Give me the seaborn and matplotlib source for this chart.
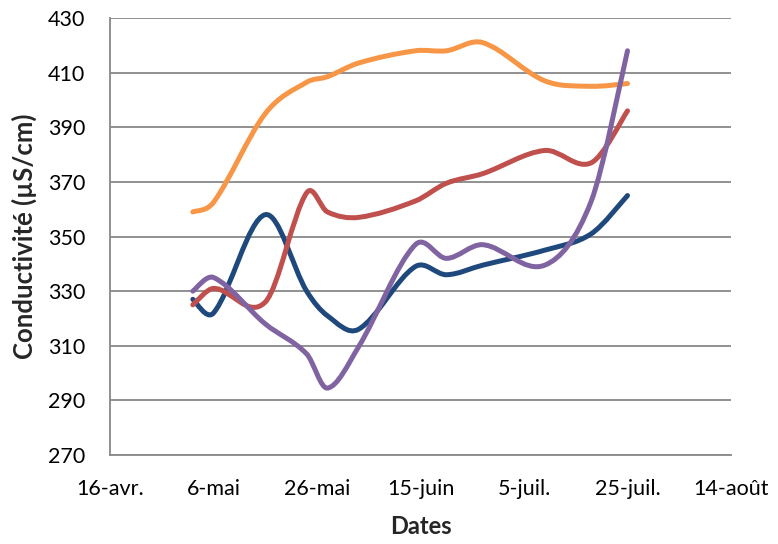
import pandas as pd
import numpy as np
import matplotlib
matplotlib.use('Agg')
import matplotlib.pyplot as plt
import matplotlib.dates as mdates
from matplotlib.path import Path
from matplotlib.patches import PathPatch
import seaborn as sns

# Data
dates = ['2013-05-02', '2013-05-06', '2013-05-16', '2013-05-24', '2013-05-28', '2013-06-03',
         '2013-06-14', '2013-06-20', '2013-06-27', '2013-07-09', '2013-07-18', '2013-07-25']
serie_bleue = [327, 322, 358, 330, 321, 316, 339, 336, 339.5, 345, 351, 365]
serie_rouge = [325, 331, 326, 366, 359, 357, 363, 369.5, 373, 381.5, 377, 396]
serie_orange = [359, 362.5, 395, 406.5, 408.5, 413.5, 418, 418, 421, 407, 405, 406]
serie_violette = [330, 335, 318, 307, 294.5, 309.5, 347, 342, 347, 339.5, 363, 418]

tick_dates = ['2013-04-16', '2013-05-06', '2013-05-26', '2013-06-15', '2013-07-05', '2013-07-25', '2013-08-14']
tick_labels = ['16-avr.', '6-mai', '26-mai', '15-juin', '5-juil.', '25-juil.', '14-août']
y_ticks = [270, 290, 310, 330, 350, 370, 390, 410, 430]

couleurs = ['#1F497D', '#C0504D', '#F79646', '#8064A2']

sns.set_style('white')
plt.rcParams['font.family'] = ['Lato', 'DejaVu Sans']

df = pd.DataFrame({'date': pd.to_datetime(dates), 'bleu': serie_bleue, 'rouge': serie_rouge,
                   'orange': serie_orange, 'violet': serie_violette})


def smooth_path(x, y):
    # smoothed line (Excel style): cubic Bezier, tangents from neighbours,
    # arm lengths shared out by the spacing of the dates
    p = np.column_stack([x, y])
    n = len(p)
    dx = np.diff(x)
    verts = [p[0]]
    codes = [Path.MOVETO]
    for i in range(n - 1):
        prev_i = max(i - 1, 0)
        next_i = min(i + 2, n - 1)
        d_prev = dx[i - 1] if i > 0 else dx[i]
        d_next = dx[i + 1] if i + 1 < n - 1 else dx[i]
        w1 = dx[i] / (d_prev + dx[i]) if i > 0 else 0.5
        w2 = dx[i] / (d_next + dx[i]) if i + 1 < n - 1 else 0.5
        c1 = p[i] + (p[i + 1] - p[prev_i]) * w1 / 3.0
        c2 = p[i + 1] - (p[next_i] - p[i]) * w2 / 3.0
        verts += [c1, c2, p[i + 1]]
        codes += [Path.CURVE4] * 3
    return Path(verts, codes)


fig = plt.figure(figsize=(7.78, 5.44), dpi=100)
ax = fig.add_axes([0.1414, 0.1636, 0.7982, 0.8033])

x0 = mdates.date2num(pd.Timestamp('2013-04-16'))
x1 = mdates.date2num(pd.Timestamp('2013-08-14'))
ax.set_xlim(x0, x1)
ax.set_ylim(270, 430)

xnum = mdates.date2num(df['date'])
for col, c in zip(['bleu', 'rouge', 'orange', 'violet'], couleurs):
    patch = PathPatch(smooth_path(xnum, df[col].values), facecolor='none', edgecolor=c,
                      lw=3.6, capstyle='round', joinstyle='round', zorder=3)
    ax.add_patch(patch)

ax.set_xticks(mdates.date2num(pd.to_datetime(tick_dates)))
ax.set_xticklabels(tick_labels)
ax.set_yticks(y_ticks)

ax.grid(axis='y', color='#888888', lw=1.3)
ax.set_axisbelow(True)
sns.despine(ax=ax)
for s in ['left', 'bottom']:
    ax.spines[s].set_color('#888888')
    ax.spines[s].set_linewidth(1.3)
ax.tick_params(axis='both', direction='out', length=6, width=1.3, color='#888888',
               labelsize=15.5, labelcolor='black')
ax.tick_params(axis='x', pad=11)
ax.tick_params(axis='y', pad=12)

ax.set_xlabel('Dates', fontsize=17, fontweight='bold', labelpad=12)
ax.set_ylabel('Conductivité (µS/cm)', fontsize=18.5, fontweight='bold', labelpad=8)

fig.savefig('out.png', dpi=100)
